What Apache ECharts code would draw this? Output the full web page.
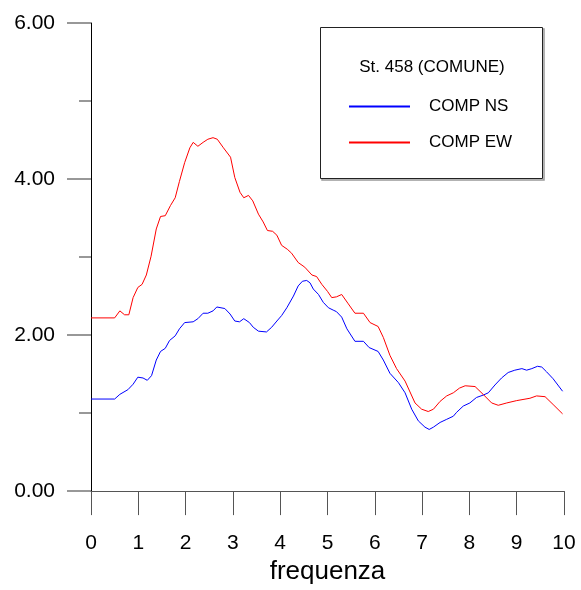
<!DOCTYPE html>
<html>
<head>
<meta charset="utf-8">
<script src="https://cdn.jsdelivr.net/npm/echarts@6/dist/echarts.min.js"></script>
<style>
html,body{margin:0;padding:0;background:#fff;}
#c{width:581px;height:590px;}
</style>
</head>
<body>
<div id="c"></div>
<script>
var xTickLabels = ['0','1','2','3','4','5','6','7','8','9','10'];
var yTickLabels = ['0.00','2.00','4.00','6.00'];
var legendTitle = 'St. 458 (COMUNE)';
var axisName = 'frequenza';
var seriesNames = ['COMP NS', 'COMP EW'];

var nsFreq = [0,0.5,0.61,0.78,0.89,0.99,1.10,1.19,1.28,1.38,1.47,1.57,1.66,1.78,1.87,1.98,2.16,2.26,2.37,2.47,2.58,2.66,2.83,2.94,3.04,3.14,3.23,3.35,3.43,3.54,3.71,3.82,3.93,4.03,4.14,4.28,4.38,4.47,4.56,4.63,4.70,4.81,4.91,5.02,5.12,5.19,5.30,5.41,5.58,5.76,5.88,6.07,6.18,6.32,6.50,6.64,6.78,6.92,7.06,7.15,7.24,7.38,7.52,7.66,7.73,7.87,8.01,8.15,8.29,8.40,8.54,8.68,8.82,8.96,9.11,9.21,9.32,9.44,9.53,9.63,9.77,9.97];
var nsVal = [1.18,1.18,1.24,1.30,1.37,1.46,1.45,1.42,1.48,1.68,1.79,1.83,1.93,1.99,2.08,2.16,2.17,2.21,2.28,2.28,2.31,2.36,2.34,2.27,2.18,2.17,2.21,2.16,2.10,2.05,2.04,2.10,2.18,2.25,2.35,2.50,2.63,2.69,2.70,2.67,2.59,2.52,2.42,2.35,2.32,2.30,2.23,2.08,1.92,1.92,1.84,1.79,1.68,1.51,1.39,1.26,1.05,0.90,0.82,0.79,0.82,0.88,0.92,0.96,1.01,1.09,1.13,1.20,1.23,1.26,1.36,1.45,1.52,1.55,1.57,1.55,1.57,1.60,1.59,1.53,1.44,1.28];

var ewFreq = [0,0.5,0.61,0.71,0.80,0.89,0.99,1.08,1.17,1.27,1.38,1.47,1.57,1.68,1.78,1.87,1.98,2.09,2.16,2.26,2.37,2.47,2.58,2.67,2.80,2.95,3.04,3.15,3.23,3.33,3.42,3.54,3.64,3.73,3.84,3.93,4.03,4.15,4.24,4.38,4.52,4.67,4.77,4.88,5.00,5.09,5.19,5.30,5.44,5.58,5.76,5.90,6.07,6.18,6.32,6.46,6.64,6.85,6.99,7.13,7.24,7.38,7.52,7.66,7.79,7.91,8.12,8.29,8.47,8.61,8.79,9.00,9.28,9.42,9.60,9.77,9.97];
var ewVal = [2.22,2.22,2.31,2.26,2.26,2.48,2.61,2.65,2.77,3.01,3.36,3.52,3.53,3.66,3.76,3.97,4.21,4.40,4.47,4.42,4.47,4.51,4.53,4.51,4.40,4.28,4.02,3.83,3.76,3.79,3.72,3.55,3.45,3.34,3.33,3.28,3.15,3.10,3.05,2.93,2.87,2.77,2.75,2.65,2.56,2.48,2.49,2.52,2.40,2.28,2.28,2.16,2.11,1.97,1.74,1.57,1.41,1.13,1.05,1.02,1.05,1.15,1.22,1.26,1.32,1.35,1.34,1.24,1.13,1.10,1.13,1.16,1.19,1.22,1.21,1.11,0.99];

function pairs(xs, ys){ return xs.map(function(x,i){ return [x, ys[i]]; }); }

var FONT = '"Liberation Sans", Arial, sans-serif';
var chart = echarts.init(document.getElementById('c'), null, {renderer:'canvas'});
chart.setOption({
  animation: false,
  backgroundColor: '#ffffff',
  grid: {left: 91, right: 17, top: 23, bottom: 92, containLabel: false},
  xAxis: {
    type: 'value', min: 0, max: 10, interval: 1,
    name: axisName, nameLocation: 'middle', nameGap: 76,
    nameTextStyle: {fontFamily: FONT, fontSize: 26, color: '#000', verticalAlign: 'middle'},
    axisLine: {show: true, onZero: false, lineStyle: {color: '#555', width: 1}},
    axisTick: {show: true, inside: false, length: 24, lineStyle: {color: '#555', width: 1}},
    axisLabel: {margin: 42, fontFamily: FONT, fontSize: 21, color: '#000',
      formatter: function(v){ return xTickLabels[Math.round(v)]; }},
    splitLine: {show: false}
  },
  yAxis: {
    type: 'value', min: 0, max: 6, interval: 2,
    axisLine: {show: true, onZero: false, lineStyle: {color: '#000', width: 1}},
    axisTick: {show: true, inside: false, length: 24, lineStyle: {color: '#777', width: 1.5}},
    minorTick: {show: true, splitNumber: 2, length: 12, lineStyle: {color: '#777', width: 1.5}},
    axisLabel: {margin: 36, fontFamily: FONT, fontSize: 21, color: '#000',
      formatter: function(v){ return yTickLabels[Math.round(v/2)]; }},
    splitLine: {show: false}
  },
  legend: {
    orient: 'vertical', left: 343, top: 93, z: 20,
    itemWidth: 61, itemHeight: 14, itemGap: 19,
    itemStyle: {opacity: 0, color: 'rgba(0,0,0,0)', borderWidth: 0},
    textStyle: {fontFamily: FONT, fontSize: 17, color: '#000', padding: [0,0,0,14]},
    data: seriesNames
  },
  graphic: [
    {type: 'rect', shape: {x: 322, y: 29, width: 222, height: 151}, style: {fill: 'none', stroke: '#999', lineWidth: 1.5}, z: 1},
    {type: 'rect', shape: {x: 320.5, y: 27.5, width: 222, height: 151}, style: {fill: '#fff', stroke: '#222', lineWidth: 1}, z: 2},
    {type: 'text', x: 432, y: 67, z: 3, style: {text: legendTitle, fontFamily: FONT, fontSize: 17, fill: '#000', textAlign: 'center', textVerticalAlign: 'middle'}}
  ],
  series: [
    {name: seriesNames[0], type: 'line', data: pairs(nsFreq, nsVal), symbol: 'none', smooth: false,
     lineStyle: {color: '#0000ff', width: 1}, itemStyle: {color: '#0000ff'}, z: 3},
    {name: seriesNames[1], type: 'line', data: pairs(ewFreq, ewVal), symbol: 'none', smooth: false,
     lineStyle: {color: '#ff0000', width: 1}, itemStyle: {color: '#ff0000'}, z: 3}
  ]
});
</script>
</body>
</html>
